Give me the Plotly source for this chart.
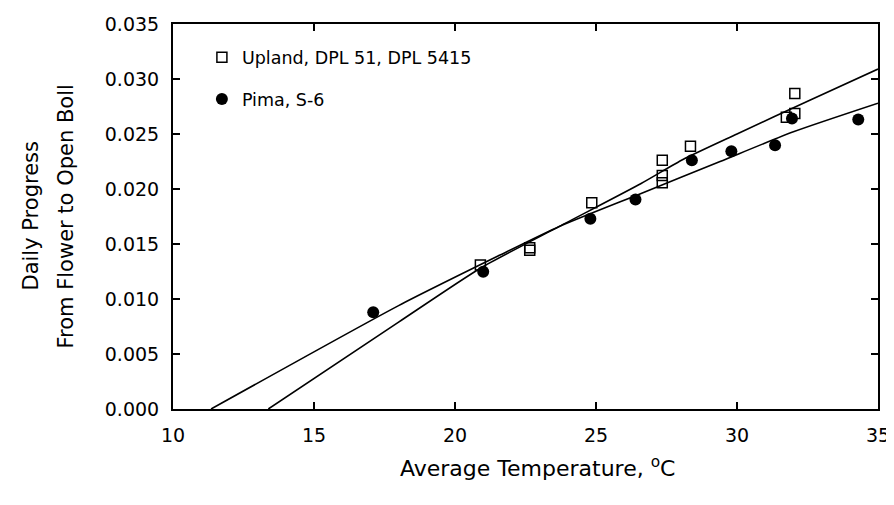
"""Daily progress from flower to open boll vs. average temperature."""

import plotly.graph_objects as go


FONT = "DejaVu Sans"
INK = "black"

# Upland (DPL 51, DPL 5415) observations
upland_temp = [20.9, 22.65, 22.65, 24.85, 27.35, 27.35, 27.35, 28.35, 31.75, 32.05, 32.05]
upland_rate = [0.0131, 0.01465, 0.01444, 0.01875, 0.02262, 0.02123, 0.02056, 0.02389, 0.02653, 0.02686, 0.02868]

# Pima S-6 observations
pima_temp = [17.1, 21.0, 24.8, 26.4, 28.4, 29.8, 31.35, 31.95, 34.3]
pima_rate = [0.0088, 0.01247, 0.01729, 0.01905, 0.02262, 0.02344, 0.02398, 0.02641, 0.02632]

# Fitted curves
upland_fit_temp = [13.38, 18.0, 20.9, 23.7, 26.6, 28.1, 30.0, 32.6, 35.0]
upland_fit_rate = [0.0, 0.0079, 0.0128, 0.0166, 0.0205, 0.0227, 0.0250, 0.0281, 0.0309]
pima_fit_temp = [11.35, 18.0, 21.6, 23.7, 26.6, 29.4, 32.0, 35.0]
pima_fit_rate = [0.0, 0.0094, 0.0140, 0.0166, 0.0196, 0.0225, 0.0252, 0.0278]

x_ticks = [10, 15, 20, 25, 30, 35]
y_ticks = [0.000, 0.005, 0.010, 0.015, 0.020, 0.025, 0.030, 0.035]

x_title = "Average Temperature, <sup>o</sup>C"
y_title_lines = ["Daily Progress", "From Flower to Open Boll"]

fig = go.Figure()

fig.add_trace(go.Scatter(
    x=upland_fit_temp, y=upland_fit_rate, mode="lines",
    line=dict(color=INK, width=1.6, shape="spline", smoothing=0.6),
    showlegend=False, hoverinfo="skip",
))
fig.add_trace(go.Scatter(
    x=pima_fit_temp, y=pima_fit_rate, mode="lines",
    line=dict(color=INK, width=1.6, shape="spline", smoothing=0.6),
    showlegend=False, hoverinfo="skip",
))

fig.add_trace(go.Scatter(
    x=upland_temp, y=upland_rate, mode="markers",
    name="Upland, DPL 51, DPL 5415", legendgroup="a",
    marker=dict(symbol="square-open", size=10, color=INK, line=dict(width=1.5, color=INK)),
))
fig.add_trace(go.Scatter(
    x=pima_temp, y=pima_rate, mode="markers",
    name="Pima, S-6", legendgroup="b",
    marker=dict(symbol="circle", size=12, color=INK),
))

axis_common = dict(
    showline=True, linecolor=INK, linewidth=2, mirror="ticks",
    ticks="inside", ticklen=7, tickwidth=1.5, tickcolor=INK,
    showgrid=False, zeroline=False, automargin=False,
    tickfont=dict(family=FONT, size=19, color=INK),
    ticklabelstandoff=8, ticklabeloverflow="allow",
)

# page body adds an 8px margin, so the figure is kept inside the window
fig.update_layout(
    width=886, height=480,
    margin=dict(l=165, r=16, t=16, b=79),
    paper_bgcolor="white", plot_bgcolor="white",
    font=dict(family=FONT, color=INK),
    xaxis=dict(**axis_common, range=[10, 35], tickvals=x_ticks),
    yaxis=dict(**axis_common, range=[0, 0.035], tickvals=y_ticks, tickformat=".3f"),
    legend=dict(
        x=0.041, y=0.96, xanchor="left", yanchor="top",
        bgcolor="rgba(0,0,0,0)", traceorder="grouped", tracegroupgap=16,
        font=dict(family=FONT, size=17.5, color=INK),
        itemwidth=30,
    ),
)

# x title, slightly right of centre as in the original
fig.add_annotation(
    text=x_title, showarrow=False,
    xref="paper", yref="paper", x=0.5, y=0,
    xanchor="center", yanchor="middle", xshift=12, yshift=-58,
    font=dict(family=FONT, size=22, color=INK),
)

# two-line y title, each line placed on its own
for text, shift in zip(y_title_lines, [-143, -108]):
    fig.add_annotation(
        text=text, textangle=-90, showarrow=False,
        xref="paper", yref="paper", x=0, y=0.5,
        xanchor="center", yanchor="middle", xshift=shift,
        font=dict(family=FONT, size=21, color=INK),
    )

fig.write_html("out.html")
